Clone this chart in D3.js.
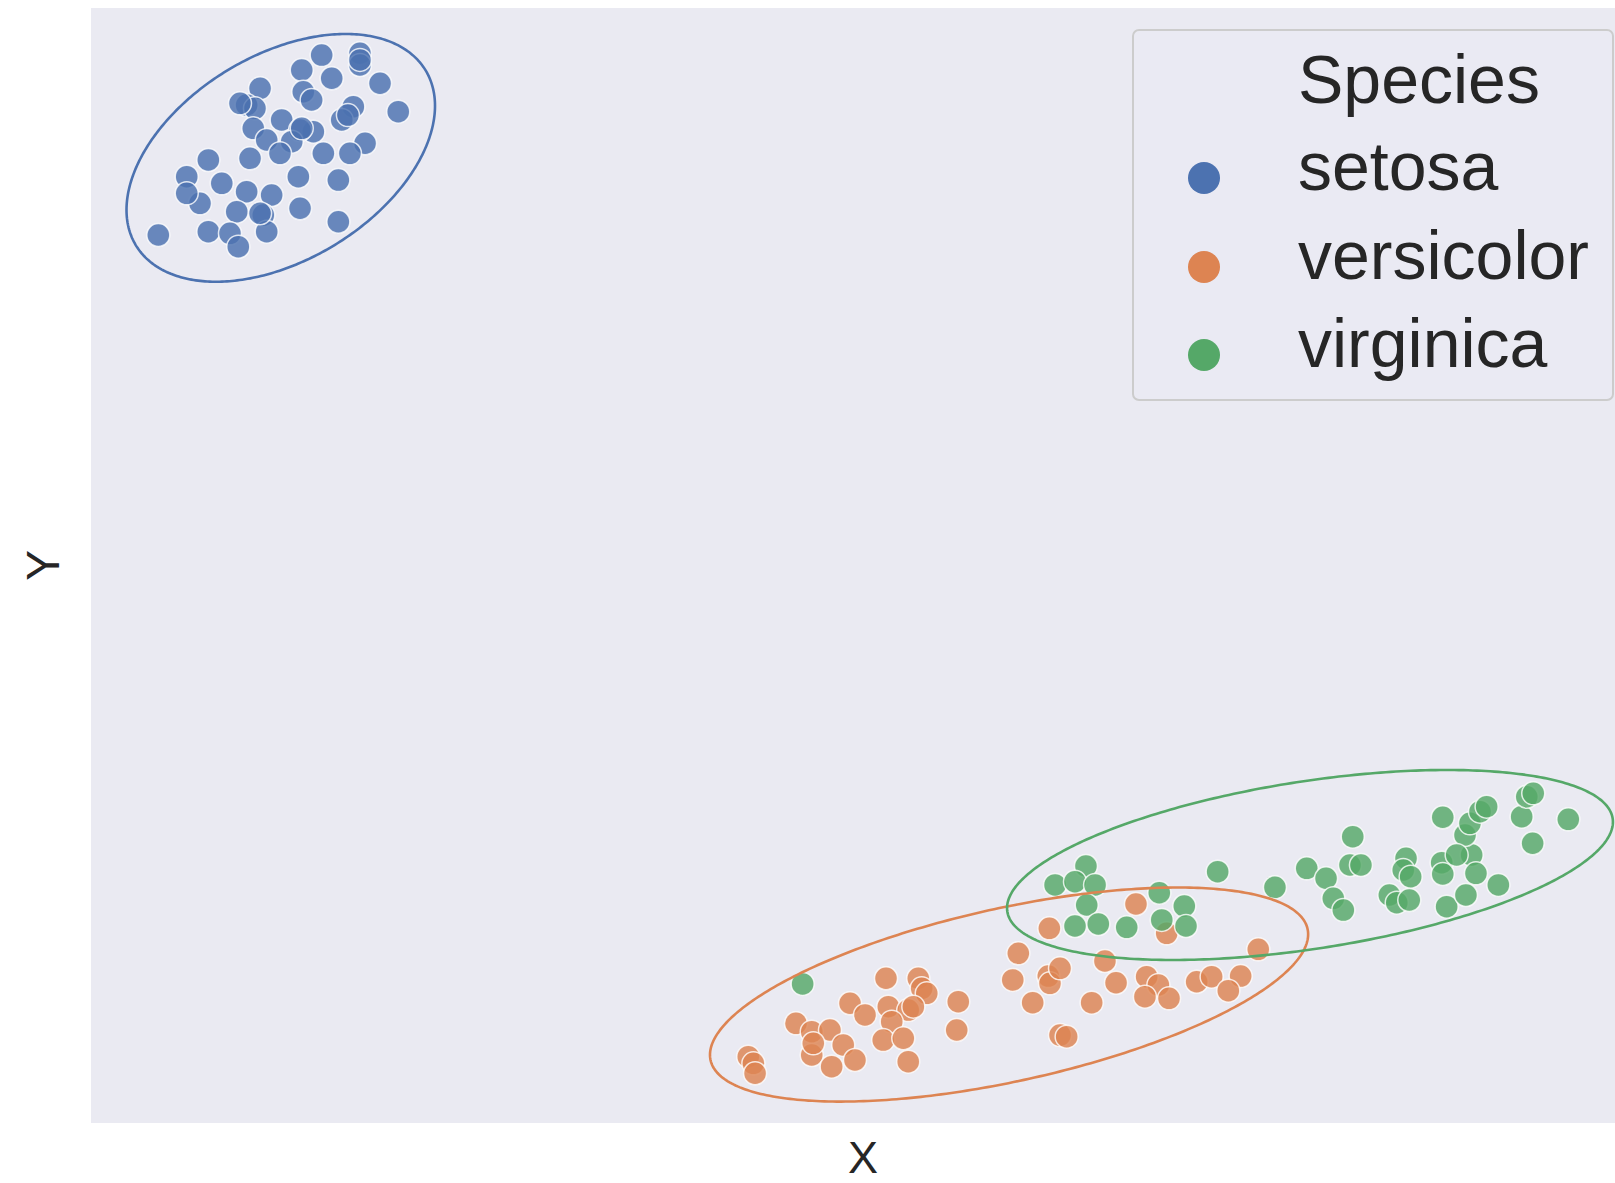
<!DOCTYPE html>
<html>
<head>
<meta charset="utf-8">
<script src="https://cdn.jsdelivr.net/npm/d3@7"></script>
<style>
  html, body { margin: 0; padding: 0; background: #ffffff; }
  svg { display: block; }
  text { font-family: "Liberation Sans", Arial, sans-serif; fill: #262626; }
</style>
</head>
<body>
<div id="chart"></div>
<script>
// ---------------- DATA ----------------
const species = ["setosa", "versicolor", "virginica"];
const legendTitle = "Species";
const xLabel = "X";
const yLabel = "Y";

const setosaX = [14.94,17.42,13.65,15.59,17.42,18.72,19.90,10.95,10.08,10.62,13.75,14.29,16.99,16.24,12.35,10.51,14.40,13.54,11.38,13.00,12.24,17.75,16.77,15.05,10.30,7.60,6.20,8.47,13.43,16.02,10.08,11.70,7.06,9.44,11.16,13.54,16.02,4.36,7.60,9.00,11.38,9.54,6.20,9.65,13.65,16.64,10.95,17.42];
const setosaY = [95.78,95.94,94.44,93.70,94.89,93.25,90.70,92.80,91.30,91.00,92.49,91.75,91.15,89.96,89.96,89.21,88.91,89.06,88.16,88.01,86.97,87.87,86.97,86.97,86.52,86.37,84.87,84.28,84.87,84.57,83.53,83.23,82.48,81.73,81.43,82.04,80.83,79.64,79.94,79.79,79.94,78.59,83.38,91.45,89.21,90.40,81.59,95.34];

const versicolorX = [42.57,42.90,43.01,45.66,46.68,47.86,48.72,46.68,49.48,47.97,46.78,49.16,50.13,51.49,53.58,53.80,54.13,51.64,52.93,53.26,51.86,51.31,52.61,52.93,56.17,56.07,60.06,59.70,62.00,62.11,62.76,60.99,62.76,63.19,62.07,64.81,65.67,66.39,67.68,69.67,68.37,69.13,68.26,69.82,71.61,72.58,74.46,73.66,75.60];
const versicolorY = [5.95,5.35,4.46,8.94,8.19,8.34,7.00,6.10,5.65,5.05,7.15,10.74,9.69,12.98,12.98,12.08,11.63,10.43,10.13,10.43,9.09,7.44,7.60,5.50,10.88,8.34,15.22,12.83,13.18,12.53,13.87,10.79,7.89,7.74,17.46,10.79,14.53,12.58,19.64,17.01,13.12,12.38,11.33,11.18,12.67,13.12,13.18,11.87,15.58];

const virginicaX = [46.09,62.44,64.44,63.73,65.03,64.49,63.73,65.24,67.08,69.19,70.81,69.35,70.92,72.97,76.68,78.74,79.99,80.46,81.11,81.72,81.54,82.25,85.17,84.99,85.47,84.09,84.57,85.38,87.48,87.55,87.80,89.05,89.42,89.70,91.15,87.55,88.99,89.31,89.96,90.39,92.66,92.99,93.41,93.37,95.68,88.45];
const virginicaY = [12.47,21.35,23.05,21.64,21.35,19.55,17.67,17.85,17.55,20.65,19.46,18.21,17.67,22.54,21.14,22.84,21.95,20.15,19.10,25.68,23.14,23.14,23.74,22.69,22.09,20.45,19.76,20.00,23.35,22.33,19.40,20.45,24.04,22.39,21.35,27.42,25.83,26.88,27.92,28.37,27.47,29.26,29.57,25.09,27.24,24.04];

// Confidence ellipses per species (data units): centre, x/y half-extent, correlation
const ellipseCX  = [12.29, 59.46, 78.95];
const ellipseCY  = [86.56, 11.52, 23.14];
const ellipseSX  = [9.99, 19.37, 19.62];
const ellipseSY  = [11.11, 9.60, 8.52];
const ellipseRho = [0.42, 0.563, 0.453];

const xDomain = [0, 100];
const yDomain = [0, 100];

// ---------------- LAYOUT ----------------
const W = 1615, H = 1183;
const plot = { left: 91, right: 1635, top: 8, bottom: 1123 };
const colors = ["#4c72b0", "#dd8452", "#55a868"];

const svg = d3.select("#chart").append("svg")
  .attr("width", W).attr("height", H)
  .attr("viewBox", `0 0 ${W} ${H}`);

const x = d3.scaleLinear().domain(xDomain).range([plot.left, plot.right]);
const y = d3.scaleLinear().domain(yDomain).range([plot.bottom, plot.top]);

svg.append("defs").append("clipPath").attr("id", "plotclip")
  .append("rect")
  .attr("x", plot.left).attr("y", plot.top)
  .attr("width", plot.right - plot.left).attr("height", plot.bottom - plot.top);

// background
svg.append("rect")
  .attr("x", plot.left).attr("y", plot.top)
  .attr("width", plot.right - plot.left).attr("height", plot.bottom - plot.top)
  .attr("fill", "#eaeaf2");

const g = svg.append("g").attr("clip-path", "url(#plotclip)");

// axes without ticks (seaborn style, ticks removed)
const xAxis = d3.axisBottom(x).tickValues([]).tickSize(0);
const yAxis = d3.axisLeft(y).tickValues([]).tickSize(0);
svg.append("g").attr("transform", `translate(0,${plot.bottom})`).call(xAxis)
  .call(s => s.select(".domain").remove());
svg.append("g").attr("transform", `translate(${plot.left},0)`).call(yAxis)
  .call(s => s.select(".domain").remove());

// points
const seriesX = [setosaX, versicolorX, virginicaX];
const seriesY = [setosaY, versicolorY, virginicaY];
const points = [];
species.forEach((sp, i) => {
  seriesX[i].forEach((v, j) => points.push({ sp: i, x: v, y: seriesY[i][j] }));
});

g.selectAll("circle.pt").data(points).enter().append("circle")
  .attr("class", "pt")
  .attr("cx", d => x(d.x))
  .attr("cy", d => y(d.y))
  .attr("r", 11.5)
  .attr("fill", d => colors[d.sp])
  .attr("fill-opacity", 0.82)
  .attr("stroke", "#ffffff")
  .attr("stroke-opacity", 0.8)
  .attr("stroke-width", 1.5);

// ellipses
const line = d3.line().x(d => x(d[0])).y(d => y(d[1])).curve(d3.curveLinearClosed);
species.forEach((sp, i) => {
  const rho = ellipseRho[i];
  const rx = Math.sqrt(1 + rho), ry = Math.sqrt(1 - rho);
  const pts = d3.range(0, 360, 1).map(deg => {
    const t = deg * Math.PI / 180;
    const ux = (rx * Math.cos(t) - ry * Math.sin(t)) / Math.SQRT2;
    const uy = (rx * Math.cos(t) + ry * Math.sin(t)) / Math.SQRT2;
    return [ellipseCX[i] + ellipseSX[i] * ux, ellipseCY[i] + ellipseSY[i] * uy];
  });
  g.append("path").attr("d", line(pts))
    .attr("fill", "none")
    .attr("stroke", colors[i])
    .attr("stroke-width", 2.6);
});

// axis labels
svg.append("text")
  .attr("x", (plot.left + plot.right) / 2).attr("y", 1173)
  .attr("text-anchor", "middle")
  .attr("font-size", 45)
  .text(xLabel);
svg.append("text")
  .attr("transform", `translate(59,${(plot.top + plot.bottom) / 2}) rotate(-90)`)
  .attr("text-anchor", "middle")
  .attr("font-size", 46)
  .text(yLabel);

// legend
const lg = svg.append("g");
lg.append("rect")
  .attr("x", 1133).attr("y", 30)
  .attr("width", 480).attr("height", 370)
  .attr("rx", 6).attr("ry", 6)
  .attr("fill", "#eaeaf2").attr("fill-opacity", 0.8)
  .attr("stroke", "#cccccc").attr("stroke-width", 2);
lg.append("text")
  .attr("x", 1298).attr("y", 103)
  .attr("font-size", 68)
  .text(legendTitle);
const rowY = [190, 279, 367];
species.forEach((sp, i) => {
  lg.append("circle")
    .attr("cx", 1204).attr("cy", rowY[i] - 12)
    .attr("r", 16)
    .attr("fill", colors[i]);
  lg.append("text")
    .attr("x", 1298).attr("y", rowY[i])
    .attr("font-size", 68)
    .text(sp);
});
</script>
</body>
</html>
